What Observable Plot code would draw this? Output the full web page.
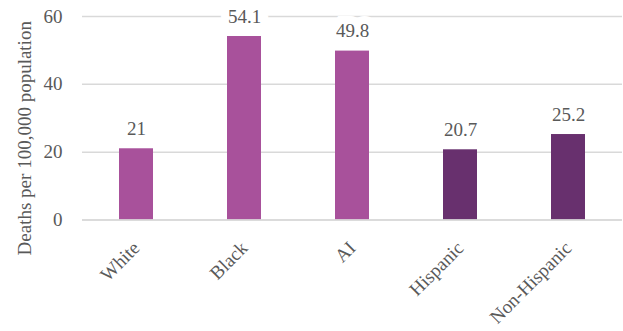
<!DOCTYPE html>
<html>
<head>
<meta charset="utf-8">
<script src="https://cdn.jsdelivr.net/npm/d3@7"></script>
<script src="https://cdn.jsdelivr.net/npm/@observablehq/plot@0.6"></script>
<style>
  html, body { margin: 0; padding: 0; background: #fff; }
  #chart svg { display: block; }
</style>
</head>
<body>
<div id="chart"></div>
<script>
const categories = ["White", "Black", "AI", "Hispanic", "Non-Hispanic"];
const values = [21, 54.1, 49.8, 20.7, 25.2];
const groups = ["race", "race", "race", "ethnicity", "ethnicity"];
const yTicks = [0, 20, 40, 60];
const yLabel = "Deaths per 100,000 population";

const data = categories.map((c, i) => ({ category: c, value: values[i], group: groups[i] }));

const font = "'Liberation Serif', 'Times New Roman', serif";
const textColor = "#595959";

const chart = Plot.plot({
  width: 623,
  height: 331,
  marginLeft: 82,
  marginRight: 1,
  marginTop: 16,
  marginBottom: 111.5,
  style: { fontFamily: font, fontSize: "19px", color: textColor, background: "#fff" },
  x: { domain: categories, paddingInner: 0.685, paddingOuter: 0.3425, label: null },
  y: { domain: [0, 60], label: null },
  color: { domain: ["race", "ethnicity"], range: ["#a8519b", "#68306e"] },
  marks: [
    Plot.gridY(yTicks, { stroke: "#d9d9d9", strokeOpacity: 1, strokeWidth: 1.5 }),
    Plot.barY(data, { x: "category", y: "value", fill: "group" }),
    Plot.ruleY([0], { stroke: "#d9d9d9", strokeWidth: 1.5 }),
    Plot.text(data, {
      x: "category", y: "value", text: d => String(d.value),
      dy: -14, lineAnchor: "bottom", fill: textColor,
      stroke: "white", strokeWidth: 16, strokeLinejoin: "miter", fontSize: 19
    }),
    Plot.axisY(yTicks, { tickSize: 0, tickPadding: 20, label: null, fontSize: 19, fill: textColor }),
    Plot.axisX({ tickSize: 0, tickRotate: -45, tickPadding: 25, label: null, fontSize: 19, fill: textColor }),
    Plot.text([yLabel], { frameAnchor: "left", textAnchor: "middle", rotate: -90, dx: -58, dy: 20, fontSize: 19, fill: textColor })
  ]
});
document.getElementById("chart").appendChild(chart);
</script>
</body>
</html>
